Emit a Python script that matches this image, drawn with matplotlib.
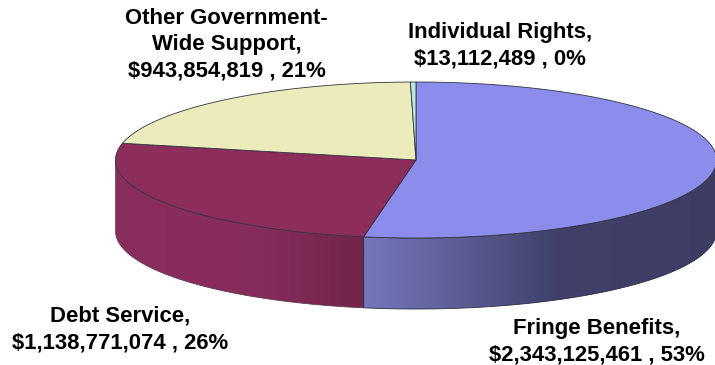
import matplotlib
matplotlib.use('Agg')
import matplotlib.pyplot as plt
from matplotlib.colors import LinearSegmentedColormap
from matplotlib.patches import Polygon
import numpy as np

names = ['Fringe Benefits', 'Debt Service', 'Other Government-\nWide Support', 'Individual Rights']
amounts = [2343125461, 1138771074, 943854819, 13112489]
percents = [53, 26, 21, 0]
top_colors = ['#8C8CEC', '#8C2D5C', '#EBEBBB', '#B8E6E0']
label_x = [597, 120, 226.5, 500]
label_y = [361, 348, 77, 65]

cx, cy = 416, 160
rx, ry = 300.5, 78
depth = 71

plt.rcParams['font.family'] = ['Liberation Sans', 'DejaVu Sans']

fig = plt.figure(figsize=(7.15, 3.65), dpi=100)
ax = fig.add_axes([0, 0, 1, 1])


def rim(a0, a1, n=300):
    t = np.radians(np.linspace(a0, a1, n))
    return cx + rx * np.cos(t), cy - ry * np.sin(t)


# slices run clockwise from twelve o'clock
shares = np.array(amounts) / sum(amounts)
edges = 90 - 360 * np.concatenate([[0], np.cumsum(shares)])
split_x = cx + rx * np.cos(np.radians(edges[1]))


def side(a0, a1, stops, x0, x1, edge):
    # front wall of one slice, filled with a horizontal gradient
    xs, ys = rim(a0, a1)
    pts = np.column_stack([np.r_[xs, xs[::-1]], np.r_[ys, ys[::-1] + depth]])
    cmap = LinearSegmentedColormap.from_list('wall', stops)
    img = ax.imshow(np.linspace(0, 1, 256)[None, :], cmap=cmap, aspect='auto',
                    extent=[x0, x1, cy + ry + depth, cy - ry], zorder=1)
    patch = Polygon(pts, closed=True, facecolor='none', edgecolor=edge, lw=0.6, zorder=2)
    ax.add_patch(patch)
    img.set_clip_path(patch)


# only the part of the wall below the horizon is visible
side(edges[1], -180, [(0, '#8A2E5D'), (0.6, '#862C5A'), (1, '#72244B')],
     cx - rx, split_x, '#5a3a50')
side(0, edges[1], [(0, '#7676BE'), (0.2, '#64649F'), (0.55, '#40406A'), (1, '#3D3D64')],
     split_x, cx + rx, '#2c2c48')

for i, color in enumerate(top_colors):
    xs, ys = rim(edges[i], edges[i + 1])
    pts = np.column_stack([np.r_[cx, xs], np.r_[cy, ys]])
    ax.add_patch(Polygon(pts, closed=True, facecolor=color, edgecolor='#33333f', lw=0.6, zorder=3))

for name, amount, pct, x, y in zip(names, amounts, percents, label_x, label_y):
    ax.text(x, y, f'{name},\n${amount:,} , {pct}%', ha='center', va='baseline',
            fontsize=15.9, fontweight='bold', color='black', linespacing=1.35)

ax.set_xlim(0, 715)
ax.set_ylim(365, 0)
ax.axis('off')

fig.savefig('out.png', dpi=100)
